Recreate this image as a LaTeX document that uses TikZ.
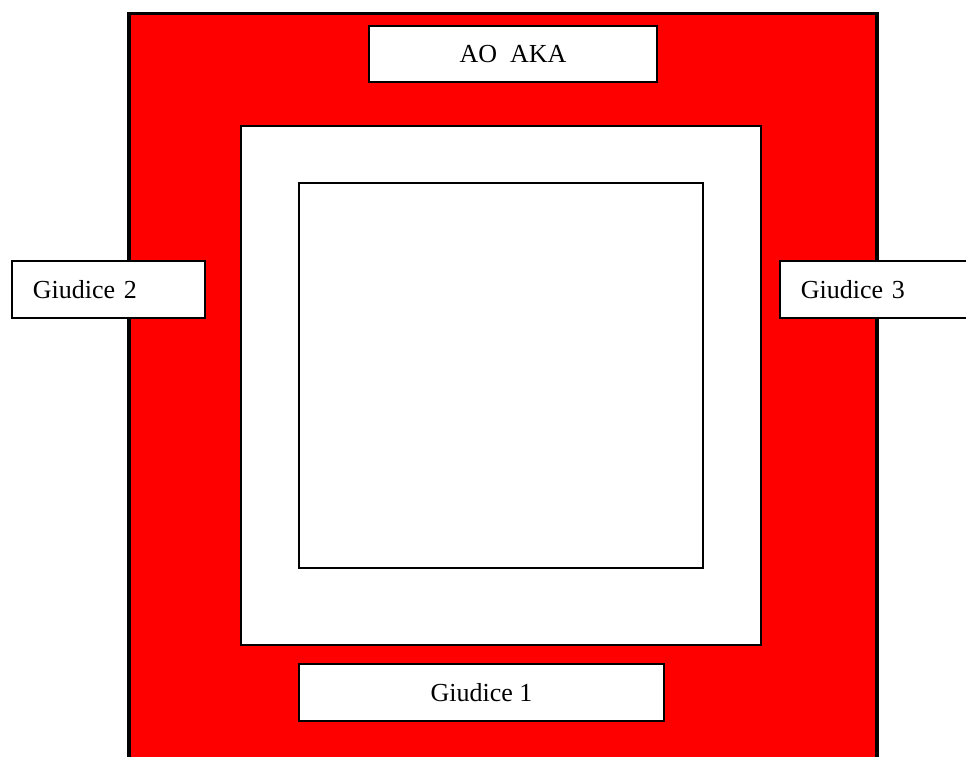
\documentclass[tikz,border=0pt]{standalone}
\usepackage{fontspec}
\setmainfont{Liberation Serif}
\begin{document}
\begin{tikzpicture}[x=1pt, y=-1pt]
    % Estilo para las cajas de texto
    \tikzstyle{box_style} = [rectangle, draw=black, fill=white, line width=1.6pt, inner sep=0pt, font=\fontsize{26}{28}\selectfont]

    % Estilo para los cuadros del centro
    \tikzstyle{frame_style} = [rectangle, draw=black, fill=white, line width=1.6pt, inner sep=0pt]

    \useasboundingbox (0,0) rectangle (966,756);
    \clip (0,0) rectangle (966,756);

    % Fondo rojo
    \node[rectangle, draw=black, fill=red, line width=3.5pt, minimum width=748pt, minimum height=760pt, anchor=north west] (field) at (127,11.5) {};

    % Cuadros del centro
    \node[frame_style, minimum width=520pt, minimum height=519pt] (outer) at (501,385.5) {};
    \node[frame_style, minimum width=404pt, minimum height=385pt] (inner) at (501,375.5) {};

    % Cajas con las etiquetas
    \node[box_style, minimum width=288pt, minimum height=56pt] (aka) at (513,54) {AO\ \ AKA};
    \node[box_style, minimum width=365pt, minimum height=57pt] (g1) at (481.5,692.5) {Giudice 1};
    \node[box_style, minimum width=193pt, minimum height=57pt, text width=193pt, align=left, anchor=west] (g2) at (11,289.5) {\hspace*{21pt}Giudice 2};
    \node[box_style, minimum width=240pt, minimum height=57pt, text width=240pt, align=left, anchor=west] (g3) at (779,289.5) {\hspace*{21pt}Giudice 3};
\end{tikzpicture}
\end{document}
